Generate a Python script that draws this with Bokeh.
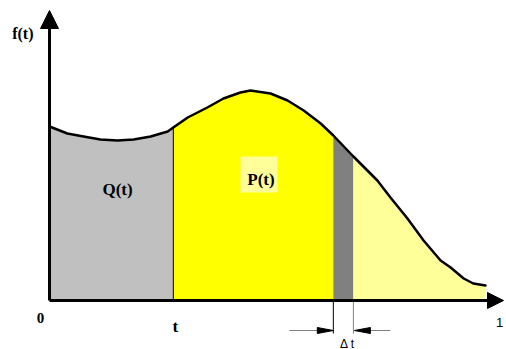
import numpy as np
from bokeh.plotting import figure
from bokeh.models import Range1d, Arrow, NormalHead
from bokeh.core.properties import value
from bokeh.embed import file_html
from bokeh.resources import INLINE

# ---- data (t in [0,1], f(t) arbitrary units) ----
t_vals = [0.0, 0.041, 0.078, 0.117, 0.156, 0.193, 0.232, 0.271, 0.284, 0.317,
          0.362, 0.399, 0.438, 0.461, 0.507, 0.546, 0.583, 0.622, 0.651, 0.697,
          0.752, 0.782, 0.821, 0.858, 0.897, 0.920, 0.950, 0.972, 1.0]
f_vals = [0.87, 0.835, 0.82, 0.805, 0.80, 0.805, 0.82, 0.845, 0.865, 0.915,
          0.965, 1.01, 1.04, 1.05, 1.035, 1.0, 0.95, 0.885, 0.825, 0.72,
          0.60, 0.515, 0.41, 0.30, 0.20, 0.165, 0.11, 0.085, 0.075]
t_split = 0.284   # "t"
dt_start = 0.651  # start of Δt strip
dt_end = 0.697    # end of Δt strip
region_labels = ["Q(t)", "P(t)"]
axis_labels = ["f(t)", "0", "t", "1", "Δ t"]

# screen-pixel to data conversions
PX_T = 1 / 436
PX_F = 1 / 200

C_GRAY = "#C0C0C0"
C_YEL = "#FFFF00"
C_DARK = "#808080"
C_LYEL = "#FFFF99"

p = figure(width=506, height=349,
           x_range=Range1d(-49 * PX_T, 457 * PX_T),
           y_range=Range1d(-49 * PX_F, 300 * PX_F),
           output_backend="svg", toolbar_location=None, min_border=0,
           x_axis_location=None, y_axis_location=None)
p.grid.visible = False
p.outline_line_color = None
p.background_fill_color = "white"
p.border_fill_color = "white"

t = np.array(t_vals)
f = np.array(f_vals)
i1 = t_vals.index(t_split)
i2 = t_vals.index(dt_start)
i3 = t_vals.index(dt_end)
n = len(t_vals) - 1

segments = [(0, i1, C_GRAY), (i1, i2, C_YEL), (i2, i3, C_DARK), (i3, n, C_LYEL)]
for a, b, col in segments:
    p.varea(x=t[a:b + 1], y1=0, y2=f[a:b + 1], fill_color=col)

# P(t) label background
p.rect(x=[0.4805], y=[0.63], width=37, height=36, width_units="screen",
       height_units="screen", fill_color=C_LYEL, line_color=None)

# separator at t
p.segment(x0=[t_split], y0=[0], x1=[t_split], y1=[f_vals[i1]], line_color="black", line_width=1)

# curve
p.line(t, f, line_color="black", line_width=2.5, line_join="round", line_cap="round")

# drop lines for Δt
p.segment(x0=[dt_start], y0=[0], x1=[dt_start], y1=[-33 * PX_F], line_color="black", line_width=1)
p.segment(x0=[dt_end], y0=[0], x1=[dt_end], y1=[-33 * PX_F], line_color=C_DARK, line_width=1)

# Δt arrows
ya = -30 * PX_F
p.segment(x0=[dt_start - 44 * PX_T, dt_end + 16 * PX_T], y0=[ya, ya],
          x1=[dt_start - 15 * PX_T, dt_end + 37 * PX_T], y1=[ya, ya],
          line_color=C_DARK, line_width=1.2)
hx = [[dt_start, dt_start - 16 * PX_T, dt_start - 16 * PX_T],
      [dt_end + 1 * PX_T, dt_end + 17 * PX_T, dt_end + 17 * PX_T]]
hy = [[ya, ya + 3 * PX_F, ya - 3 * PX_F], [ya, ya + 3 * PX_F, ya - 3 * PX_F]]
p.patches(hx, hy, fill_color="black", line_color="black", line_width=1)

# axes with arrowheads
p.add_layout(Arrow(x_start=0, y_start=0, x_end=0, y_end=290 * PX_F, line_width=3,
                   line_color="black",
                   end=NormalHead(size=18, fill_color="black", line_color="black", line_width=1)))
p.add_layout(Arrow(x_start=0, y_start=0, x_end=454 * PX_T, y_end=0, line_width=3,
                   line_color="black",
                   end=NormalHead(size=16, fill_color="black", line_color="black", line_width=1)))

serif = value("Liberation Serif")
sans = value("Liberation Sans")

p.text(x=[-16 * PX_T], y=[267 * PX_F], text=[axis_labels[0]], text_font=serif,
       text_font_style="bold", text_font_size="16px", text_align="right",
       text_baseline="alphabetic", text_color="black")
p.text(x=[-9 * PX_T], y=[-17 * PX_F], text=[axis_labels[1]], text_font=serif,
       text_font_style="bold", text_font_size="15px", text_align="center",
       text_baseline="alphabetic", text_color="black")
p.text(x=[t_split + 2 * PX_T], y=[-26 * PX_F], text=[axis_labels[2]], text_font=serif,
       text_font_style="bold", text_font_size="17px", text_align="center",
       text_baseline="alphabetic", text_color="black")
p.text(x=[450 * PX_T], y=[-22 * PX_F], text=[axis_labels[3]], text_font=sans,
       text_font_size="13px", text_align="center",
       text_baseline="alphabetic", text_color="black")
p.text(x=[(dt_start + dt_end) / 2 + 4 * PX_T], y=[-36 * PX_F], text=[axis_labels[4]],
       text_font=sans, text_font_size="12px", text_align="center",
       text_baseline="top", text_color="black")

p.text(x=[0.156], y=[0.555], text=[region_labels[0]], text_font=serif,
       text_font_style="bold", text_font_size="17px", text_align="center",
       text_baseline="alphabetic", text_color="black")
p.text(x=[0.485], y=[0.605], text=[region_labels[1]], text_font=serif,
       text_font_style="bold", text_font_size="17px", text_align="center",
       text_baseline="alphabetic", text_color="black")

open("out.html", "w").write(file_html(p, INLINE))
